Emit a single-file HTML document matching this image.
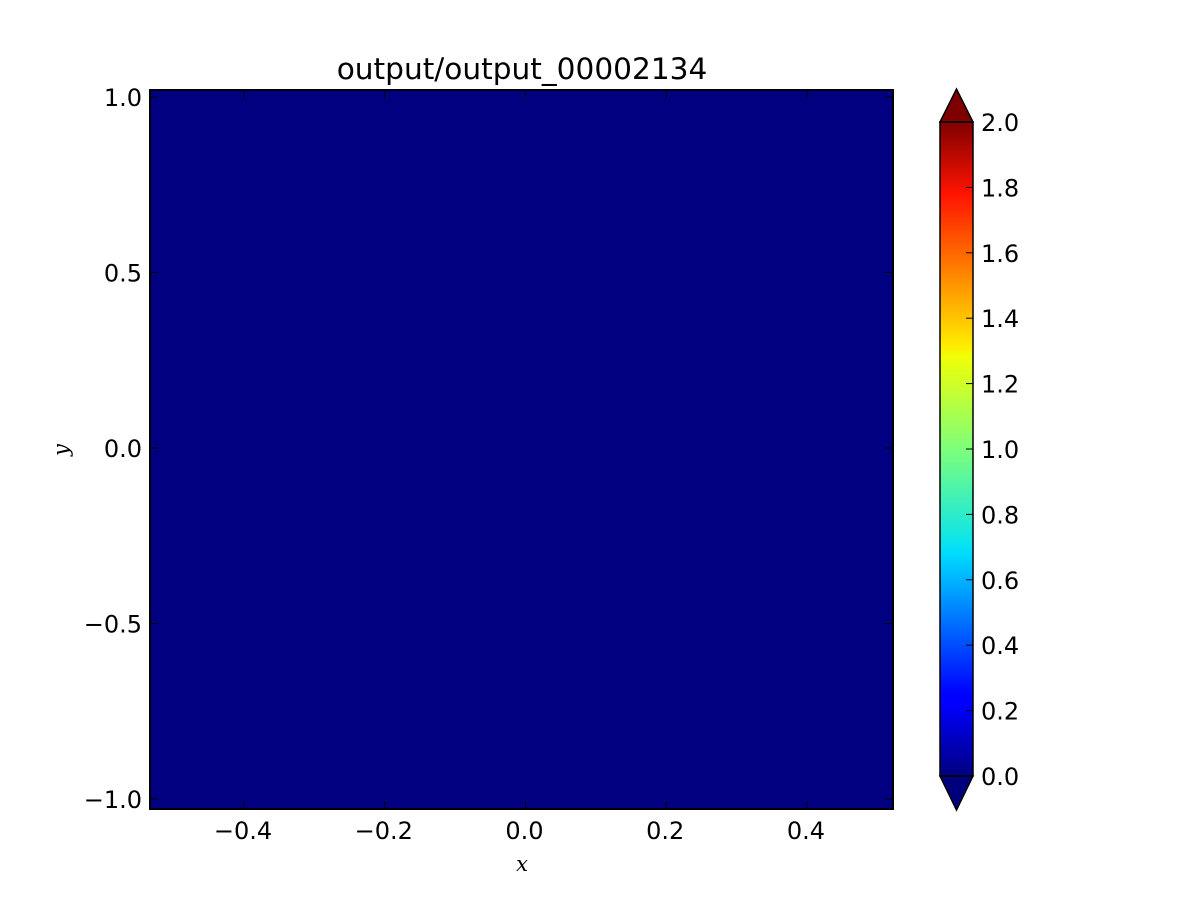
<!DOCTYPE html>
<html><head><meta charset="utf-8"><style>
body{margin:0;background:#fff;}
svg text{font-family:"DejaVu Sans","Liberation Sans",sans-serif;font-size:24px;fill:#000;}
</style></head><body>
<svg width="1200" height="900">
<defs>
<linearGradient id="jet" x1="0" y1="1" x2="0" y2="0">
<stop offset="0" stop-color="#00007f"/><stop offset="0.11" stop-color="#0000ff"/>
<stop offset="0.125" stop-color="#0000ff"/><stop offset="0.34" stop-color="#00dcff"/>
<stop offset="0.36" stop-color="#0de5ea"/><stop offset="0.5" stop-color="#7dff7a"/>
<stop offset="0.64" stop-color="#f0ff07"/><stop offset="0.66" stop-color="#ffea00"/>
<stop offset="0.89" stop-color="#ff1300"/><stop offset="1" stop-color="#7f0000"/>
</linearGradient>
</defs>
<text x="522" y="79" text-anchor="middle" style="font-size:29.6px">output/output_00002134</text>
<rect x="150" y="90" width="743" height="719" fill="#000080"/>
<g id="axes"></g>
<rect x="150" y="90" width="743" height="719" fill="none" stroke="#000" stroke-width="2"/>
<text x="522" y="871" text-anchor="middle" font-style="italic" style="font-family:'DejaVu Serif',serif;font-size:21px">x</text>
<text x="68" y="450" text-anchor="middle" font-style="italic" transform="rotate(-90 68 450)" style="font-family:'DejaVu Serif',serif;font-size:21px">y</text>
<g>
<polygon points="940,122 956.5,89 973,122" fill="#7f0000" stroke="#000" stroke-width="1.5"/>
<polygon points="940,776 956.5,810 973,776" fill="#00007f" stroke="#000" stroke-width="1.5"/>
<rect x="940" y="122" width="33" height="654" fill="url(#jet)" stroke="#000" stroke-width="1.5"/>
<g id="cbticks"></g>
</g>
</svg>
<script>
const xTicks=[-0.4,-0.2,0.0,0.2,0.4];
const xLabels=["\u22120.4","\u22120.2","0.0","0.2","0.4"];
const yTicks=[1.0,0.5,0.0,-0.5,-1.0];
const yLabels=["1.0","0.5","0.0","\u22120.5","\u22121.0"];
const cbTicks=[0,0.2,0.4,0.6,0.8,1.0,1.2,1.4,1.6,1.8,2.0];
const cbLabels=["0.0","0.2","0.4","0.6","0.8","1.0","1.2","1.4","1.6","1.8","2.0"];
const xs=v=>525.5+v*703.75;
const ys=v=>448-v*351;
const cs=v=>776-v*327;
const NS="http://www.w3.org/2000/svg";
const ax=document.getElementById('axes');
function mk(tag,attrs,parent){const e=document.createElementNS(NS,tag);for(const k in attrs)e.setAttribute(k,attrs[k]);parent.appendChild(e);return e;}
xTicks.forEach((v,i)=>{const x=xs(v);
const t1=mk('line',{x1:x,x2:x,y1:809,y2:801,stroke:'#000','stroke-width':1},ax);


const t2=mk('line',{x1:x,x2:x,y1:90,y2:98,stroke:'#000','stroke-width':1},ax);


const l=mk('text',{x:x-1,y:839,'text-anchor':'middle'},ax);l.textContent=xLabels[i];

});
yTicks.forEach((v,i)=>{const y=ys(v);
const t1=mk('line',{x1:150,x2:158,y1:y,y2:y,stroke:'#000','stroke-width':1},ax);


const t2=mk('line',{x1:885,x2:893,y1:y,y2:y,stroke:'#000','stroke-width':1},ax);


const l=mk('text',{x:142,y:y+9,'text-anchor':'end'},ax);l.textContent=yLabels[i];

});
const cb=document.getElementById('cbticks');
cbTicks.forEach((v,i)=>{const y=cs(v);
const t=mk('line',{x1:966,x2:973,y1:y,y2:y,stroke:'#000','stroke-width':1},cb);


const l=mk('text',{x:981,y:y+9},cb);l.textContent=cbLabels[i];

});
</script>
</body></html>
